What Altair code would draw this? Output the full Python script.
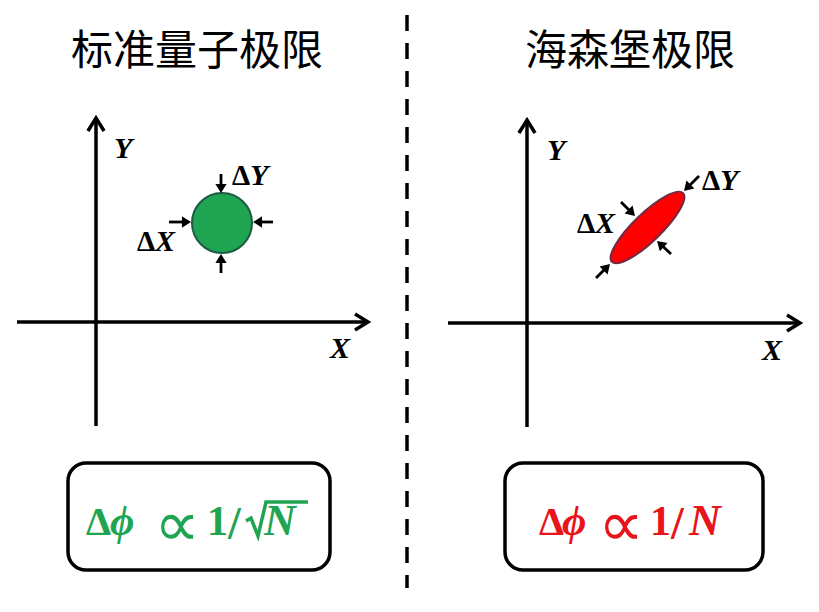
import math
import altair as alt
import pandas as pd

# ---------------- data (reference pixel coordinates) ----------------
X_DOM = [8, 811]
Y_DOM = [8, 604]

title_text = ["标准量子极限", "海森堡极限"]
title_x = [197, 630]
title_y = [52, 52]

# straight black lines (axes)
axis_x1 = [17, 96, 448, 527]
axis_y1 = [322, 426, 323, 427]
axis_x2 = [368, 96, 800, 527]
axis_y2 = [322, 118, 323, 120]
# open arrow tips of the axes
tip_x = [368, 96, 800, 527]
tip_y = [322, 118, 323, 120]
tip_angle = [90, 0, 90, 0]

# dashed divider
div_x = [407]
div_y1 = [15]
div_y2 = [588]

# small arrows: tail -> tip
arr_tail_x = [221, 221, 169, 273, 699, 596, 621, 671]
arr_tail_y = [174, 273, 222, 222, 176, 278, 202, 254]
arr_tip_x = [221, 221, 191, 253, 684, 610, 635, 657]
arr_tip_y = [193, 254, 222, 222, 191, 264, 216, 241]

# shapes
circle_x, circle_y, circle_d = [222], [223], [60]
ell_x, ell_y, ell_len, ell_angle = [647.5], [227.5], [99], [316]

# boxes
box_x1 = [68, 505]
box_x2 = [330, 763]
box_y1 = [463, 463]
box_y2 = [570, 570]

GREEN = "#1fa552"
RED = "#e8141b"

# text segments (left aligned, alphabetic baseline)
seg_text = ["Y", "X", "Y", "X",
            "Δ", "Y", "Δ", "X", "Δ", "Y", "Δ", "X",
            "Δ", "ϕ", "1", "/", "N",
            "Δ", "ϕ", "1", "/", "N"]
seg_x = [114, 330, 547, 762,
         232, 250, 137, 155, 702, 720, 577, 595,
         86, 110, 207, 228, 264,
         539, 562, 650, 671, 689]
seg_y = [158, 358, 160, 360,
         185, 185, 251, 251, 190, 190, 233, 233,
         535, 535, 535, 539, 535,
         535, 535, 535, 539, 535]
seg_size = [30, 30, 30, 30,
            29, 30, 29, 30, 29, 30, 29, 30,
            40, 42, 42, 46, 44,
            40, 42, 42, 46, 44]
seg_color = ["black"] * 12 + [GREEN] * 5 + [RED] * 5
seg_style = ["italic"] * 4 + ["normal", "italic"] * 4 + \
            ["normal", "italic", "normal", "normal", "italic"] * 2

# proportional sign
prop_x = [177, 621]
prop_y = [546, 546]
prop_color = [GREEN, RED]

# radical sign of sqrt(N) (polyline)
rad_x = [246, 251, 258, 266, 308]
rad_y = [521, 518, 536, 502, 502]

# ---------------- scales ----------------
xs = alt.Scale(domain=X_DOM, nice=False, zero=False)
ys = alt.Scale(domain=Y_DOM, nice=False, zero=False, reverse=True)


def ex(f):
    return alt.X(f, type="quantitative", scale=xs, axis=None)


def ey(f):
    return alt.Y(f, type="quantitative", scale=ys, axis=None)


# ---------------- frames ----------------
boxes = pd.DataFrame({"x": box_x1, "x2": box_x2, "y": box_y1, "y2": box_y2})
axes_df = pd.DataFrame({"x": axis_x1, "y": axis_y1, "x2": axis_x2, "y2": axis_y2})
tips_df = pd.DataFrame({"x": tip_x, "y": tip_y, "a": tip_angle})
div_df = pd.DataFrame({"x": div_x, "y": div_y1, "y2": div_y2})

shaft_rows, head_rows = [], []
for tx, ty, px, py in zip(arr_tail_x, arr_tail_y, arr_tip_x, arr_tip_y):
    dx, dy = px - tx, py - ty
    L = math.hypot(dx, dy)
    ux, uy = dx / L, dy / L
    shaft_rows.append({"x": tx, "y": ty, "x2": px - 6 * ux, "y2": py - 6 * uy})
    ang = math.degrees(math.atan2(dx, -dy)) % 360
    head_rows.append({"x": px, "y": py, "a": ang})
shafts = pd.DataFrame(shaft_rows)
heads = pd.DataFrame(head_rows)

titles = pd.DataFrame({"t": title_text, "x": title_x, "y": title_y})
segs = pd.DataFrame({"t": seg_text, "x": seg_x, "y": seg_y, "s": seg_size,
                     "c": seg_color, "st": seg_style})
circ = pd.DataFrame({"x": circle_x, "y": circle_y})
ell = pd.DataFrame({"x": ell_x, "y": ell_y})
props = pd.DataFrame({"x": prop_x, "y": prop_y, "c": prop_color, "t": ["∝", "∝"]})
rad = pd.DataFrame({"x": rad_x, "y": rad_y, "o": list(range(len(rad_x)))})

HEAD = "M 0 0 L 0.62 1 L -0.62 1 Z"
CHEV = "M -0.62 1 L 0 0 L 0.62 1"
ELLIPSE = "M -1 0 A 1 0.28 0 1 0 1 0 A 1 0.28 0 1 0 -1 0 Z"

# ---------------- layers ----------------
box_layer = alt.Chart(boxes).mark_rect(
    cornerRadius=18, fill="white", stroke="black", strokeWidth=3.5
).encode(x=ex("x"), x2="x2", y=ey("y"), y2="y2")

axis_layer = alt.Chart(axes_df).mark_rule(
    color="black", strokeWidth=3.5
).encode(x=ex("x"), y=ey("y"), x2="x2", y2="y2")

tip_layer = alt.Chart(tips_df).mark_point(
    shape=CHEV, filled=False, size=676, color="black", strokeWidth=3.5,
    opacity=1, strokeJoin="miter"
).encode(x=ex("x"), y=ey("y"), angle=alt.Angle("a:Q", scale=None))

div_layer = alt.Chart(div_df).mark_rule(
    color="black", strokeWidth=3.5, strokeDash=[16, 12]
).encode(x=ex("x"), y=ey("y"), y2="y2")

circle_layer = alt.Chart(circ).mark_point(
    shape="circle", filled=True, fill=GREEN, stroke="#1d5a44", strokeWidth=2,
    size=circle_d[0] ** 2, opacity=1
).encode(x=ex("x"), y=ey("y"))

ell_layer = alt.Chart(ell).mark_point(
    shape=ELLIPSE, filled=True, fill="#ff0000", stroke="#6b2d45", strokeWidth=2,
    size=ell_len[0] ** 2, angle=ell_angle[0], opacity=1
).encode(x=ex("x"), y=ey("y"))

shaft_layer = alt.Chart(shafts).mark_rule(
    color="black", strokeWidth=2.8
).encode(x=ex("x"), y=ey("y"), x2="x2", y2="y2")

head_layer = alt.Chart(heads).mark_point(
    shape=HEAD, filled=True, size=330, color="black", opacity=1, strokeWidth=0
).encode(x=ex("x"), y=ey("y"), angle=alt.Angle("a:Q", scale=None))

title_layer = alt.Chart(titles).mark_text(
    font="Noto Sans CJK SC", fontSize=42, align="center", baseline="middle",
    color="black"
).encode(x=ex("x"), y=ey("y"), text="t:N")

SERIF = "Liberation Serif, DejaVu Serif, serif"
seg_up = alt.Chart(segs).transform_filter("datum.st == 'normal'").mark_text(
    font=SERIF, fontWeight="bold", align="left", baseline="alphabetic"
).encode(x=ex("x"), y=ey("y"), text="t:N",
         size=alt.Size("s:Q", scale=None), color=alt.Color("c:N", scale=None))
seg_it = alt.Chart(segs).transform_filter("datum.st == 'italic'").mark_text(
    font=SERIF, fontWeight="bold", fontStyle="italic", align="left",
    baseline="alphabetic"
).encode(x=ex("x"), y=ey("y"), text="t:N",
         size=alt.Size("s:Q", scale=None), color=alt.Color("c:N", scale=None))

prop_layer = alt.Chart(props).mark_text(
    font="DejaVu Sans", fontWeight="normal", fontSize=64, align="center",
    baseline="alphabetic"
).encode(x=ex("x"), y=ey("y"), text="t:N", color=alt.Color("c:N", scale=None))

rad_layer = alt.Chart(rad).mark_line(
    color=GREEN, strokeWidth=3.5, strokeJoin="miter"
).encode(x=ex("x"), y=ey("y"), order="o:Q")

chart = alt.layer(
    box_layer, div_layer, axis_layer, tip_layer, circle_layer, ell_layer,
    shaft_layer, head_layer, title_layer, seg_up, seg_it, prop_layer, rad_layer
).properties(
    width=803, height=596, padding=0, autosize=alt.AutoSizeParams(type="none"),
    background="white"
).configure_view(strokeWidth=0)

chart.save("out.html", embed_options={"renderer": "svg", "actions": False})
